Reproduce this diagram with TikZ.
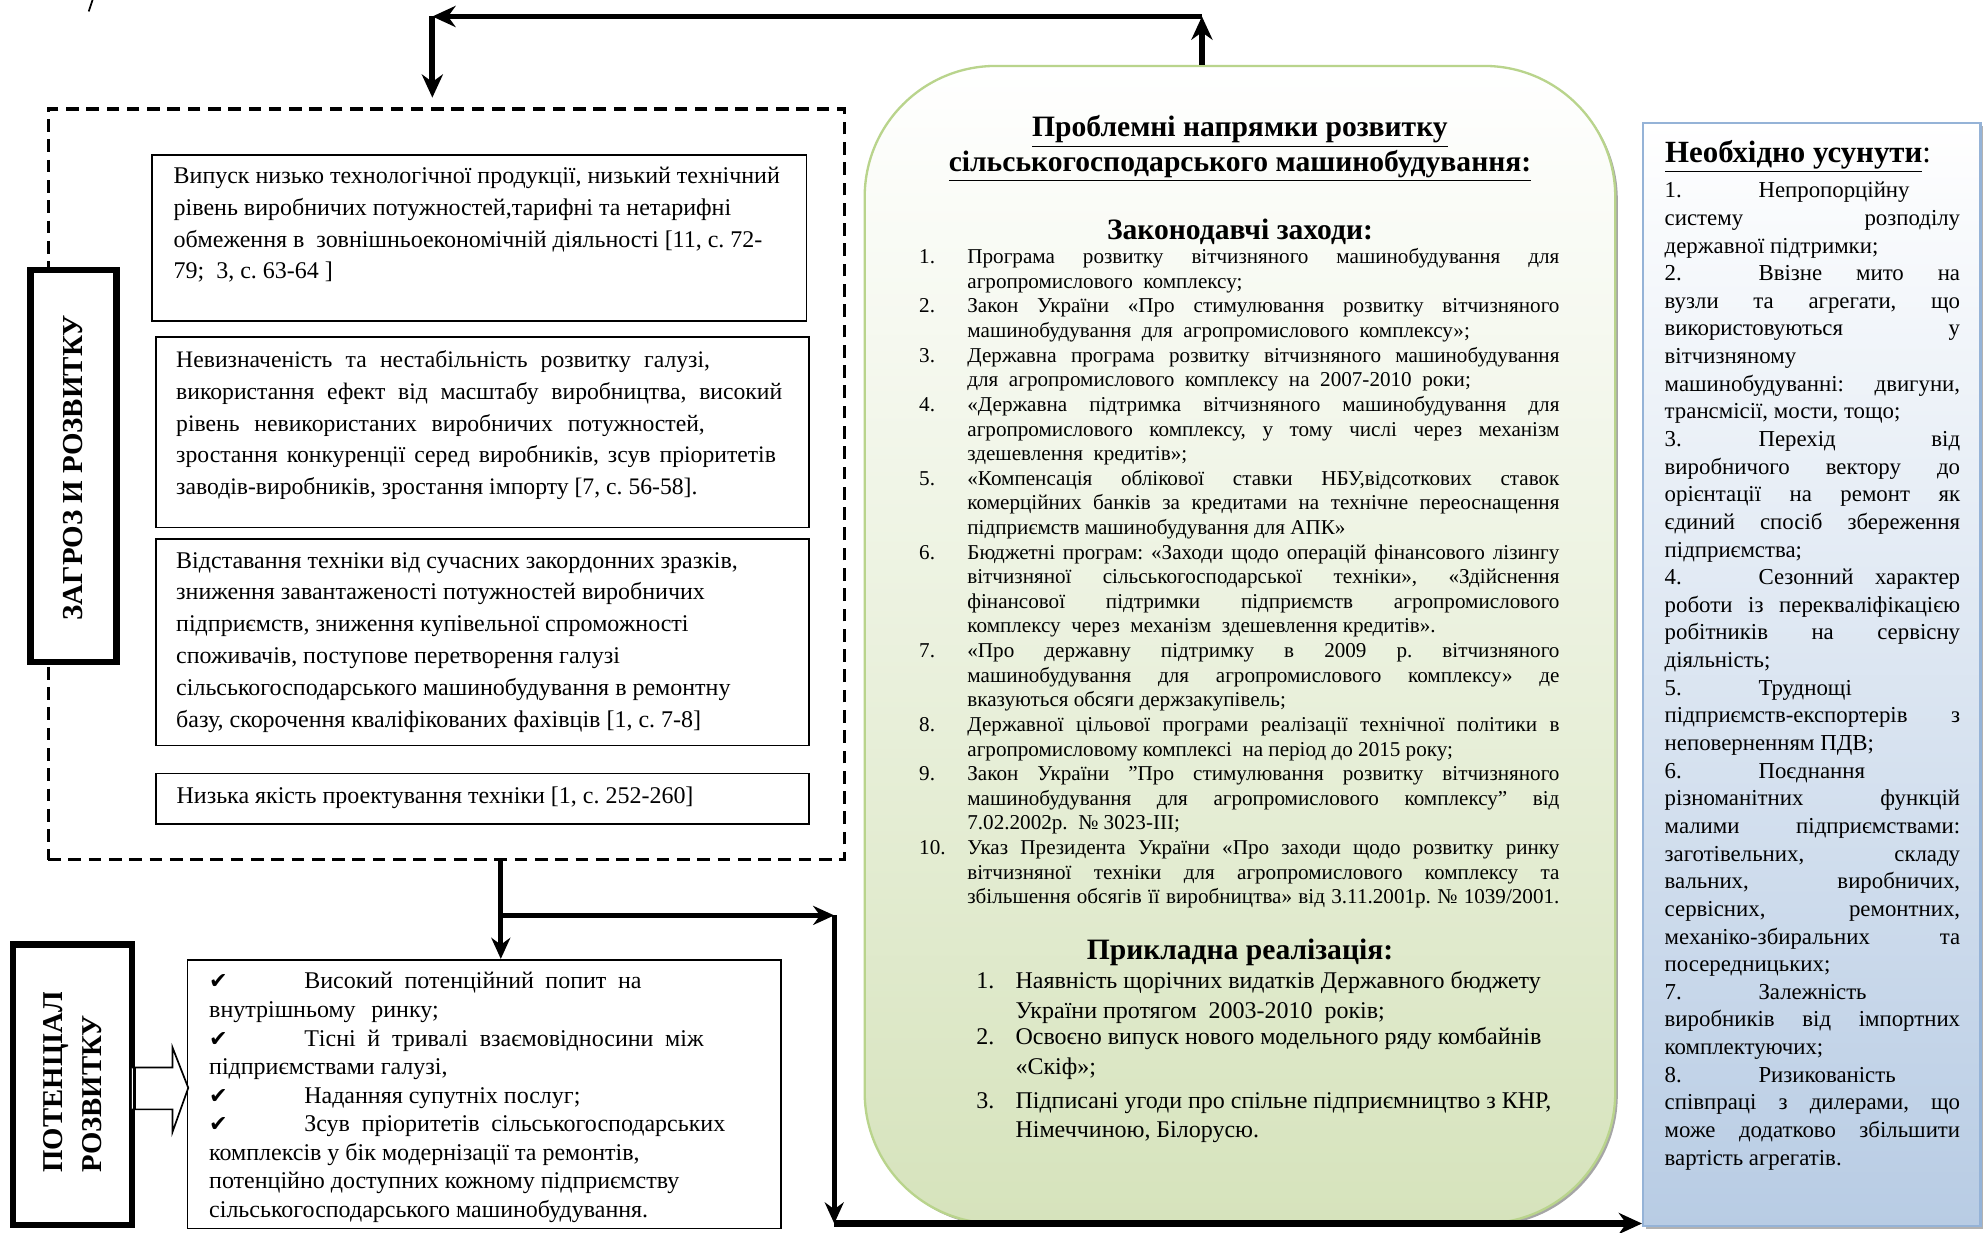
\documentclass[tikz,border=0pt]{standalone}
\usepackage{fontspec}
\setmainfont{Liberation Serif}
\newfontfamily\symf{DejaVu Sans}
\usetikzlibrary{arrows.meta,calc}
\definecolor{grnB}{RGB}{185,212,140}
\definecolor{grnM}{RGB}{238,244,224}
\definecolor{grnF}{RGB}{214,227,188}
\definecolor{bluB}{RGB}{149,179,215}
\definecolor{bluM}{RGB}{226,234,244}
\definecolor{bluF}{RGB}{184,204,228}
\frenchspacing
\newcommand\J[1]{\hbox to \hsize{\strut\spaceskip=.25em plus 1fil\relax#1}}
\newcommand\LL[1]{\hbox to \hsize{\strut#1\hfil}}
\newcommand\JW[2]{\hbox to \hsize{\hbox to #1{\strut\spaceskip=.25em plus 1fil\relax#2}\hfil}}
\newcommand\chk{{\symf\fontsize{10.5}{10.5}\selectfont ✔}}
\newcommand\tc[1]{\llap{\hbox to 22.8pt{#1\hfil}}}
\newcommand\tp[1]{\llap{\hbox to 18.6pt{#1\hfil}}}
\newcommand\tr[1]{\hbox to 44.4pt{#1\hfil}}
\newcommand\tb[1]{\hbox to 45pt{#1\hfil}}
\tikzset{
  tb/.style={anchor=north west, inner sep=0pt, outer sep=0pt},
  boxx/.style={draw, line width=0.8pt, fill=white, inner sep=0pt},
  arr/.style={line width=2.7pt, -{Stealth[length=11pt,width=10pt]}},
  arr2/.style={line width=2.3pt, -{Stealth[length=10pt,width=9pt]}},
  arr3/.style={line width=3pt, -{Stealth[length=11pt,width=10pt]}},
  ttl/.style={anchor=base, inner sep=0pt, font=\bfseries\fontsize{14}{16}\selectfont},
}
\begin{document}
\begin{tikzpicture}[x=0.6pt,y=-0.6pt]
\useasboundingbox (0,0) rectangle (1568,972);
\fill[white] (0,0) rectangle (1568,972);

% small fragment top-left
\draw[line width=0.8pt] (73,0) -- (70,9);

% green rounded box
\node[fill=black!35, rounded corners=62pt, minimum width=355.2pt, minimum height=547.8pt, inner sep=0pt] (greensh) at (980,510.5) {};
\node[draw=grnB, line width=1.1pt, top color=white, middle color=grnM, bottom color=grnF, rounded corners=62pt, minimum width=355.2pt, minimum height=547.8pt, inner sep=0pt] (green) at (978,508.5) {};

% blue box
\node[fill=black!30, minimum width=159.6pt, minimum height=522pt, inner sep=0pt] (bluesh) at (1431,534) {};
\node[draw=bluB, line width=1.1pt, top color=white, middle color=bluM, bottom color=bluF, minimum width=159.6pt, minimum height=522pt, inner sep=0pt] (blue) at (1429,532) {};

% dashed frame
\node[draw, line width=1.5pt, dash pattern=on 6pt off 3.6pt, minimum width=376.8pt, minimum height=355.2pt, inner sep=0pt] (dash) at (352,382) {};

% left boxes
\node[boxx, minimum width=309.6pt, minimum height=78.6pt] (b1) at (378,187.5) {};
\node[boxx, minimum width=309pt, minimum height=90pt] (b2) at (380.5,341) {};
\node[boxx, minimum width=309pt, minimum height=97.8pt] (b3) at (380.5,506.5) {};
\node[boxx, minimum width=309pt, minimum height=24pt] (b4) at (380.5,630) {};
\node[boxx, minimum width=280.8pt, minimum height=127.2pt] (b5) at (382,863) {};

% threat box
\node[draw, line width=3pt, fill=white, minimum width=40.8pt, minimum height=185.4pt, inner sep=0pt] (zag) at (58,367.5) {};
\node[rotate=90, inner sep=0pt, font=\bfseries\fontsize{13.7}{16}\selectfont] (zagt) at (58,369) {ЗАГРОЗ И РОЗВИТКУ};

% potential box
\node[draw, line width=3pt, fill=white, minimum width=56.4pt, minimum height=132.6pt, inner sep=0pt] (pot) at (57,855.5) {};
\begin{scope}
\clip (12,783) rectangle (102,968);
\node[rotate=90, anchor=base west, inner sep=0pt, font=\bfseries\fontsize{13.6}{16}\selectfont] (pot1) at (49.5,925) {ПОТЕНЦІАЛ};
\node[rotate=90, anchor=base west, inner sep=0pt, font=\bfseries\fontsize{13.6}{16}\selectfont] (pot2) at (80,925) {РОЗВИТКУ};
\end{scope}

% hollow block arrow
\draw[line width=0.8pt, fill=white] (104,842) -- (136,842) -- (136,826) -- (148.5,858) -- (136,893) -- (136,875) -- (104,875);
\draw[line width=1.6pt] (106,842) -- (106,875);

% texts of left boxes
\node[tb, font=\fontsize{11.35}{15}\selectfont] (t1) at (137,127.5) {\vbox{\hsize=288pt
\LL{Випуск низько технологічної продукції, низький технічний}
\LL{рівень виробничих потужностей,тарифні та нетарифні}
\LL{обмеження в\ \ зовнішньоекономічній діяльності [11, с. 72-}
\LL{79;\ \ 3, с. 63-64 ]}}};

\node[tb, font=\fontsize{11.2}{15}\selectfont] (t2) at (139,272.5) {\vbox{\hsize=286.8pt
\JW{252.6pt}{Невизначеність та нестабільність розвитку галузі,}
\JW{286.8pt}{використання ефект від масштабу виробництва, високий}
\JW{250.2pt}{рівень невикористаних виробничих потужностей,}
\JW{283.8pt}{зростання конкуренції серед виробників, зсув пріоритетів}
\LL{заводів-виробників, зростання імпорту [7, с. 56-58].}}};

\node[tb, font=\fontsize{11.35}{15.1}\selectfont] (t3) at (139,430.4) {\vbox{\hsize=286.8pt
\LL{Відставання техніки від сучасних закордонних зразків,}
\LL{зниження завантаженості потужностей виробничих}
\LL{підприємств, зниження купівельної спроможності}
\LL{споживачів, поступове перетворення галузі}
\LL{сільськогосподарського машинобудування в ремонтну}
\LL{базу, скорочення кваліфікованих фахівців [1, с. 7-8]}}};

\node[anchor=base west, inner sep=0pt, font=\fontsize{11.35}{15}\selectfont] (t4) at (139,634) {Низька якість проектування техніки [1, с. 252-260]};

\node[tb, font=\fontsize{11.35}{13.5}\selectfont] (t5) at (165,764.25) {\vbox{\hsize=264pt
\JW{204.6pt}{\tb{\chk}Високий потенційний попит на}
\JW{108.6pt}{внутрішньому ринку;}
\JW{234pt}{\tb{\chk}Тісні й тривалі взаємовідносини між}
\JW{99pt}{підприємствами галузі,}
\LL{\tb{\chk}Наданняя супутніх послуг;}
\JW{244.2pt}{\tb{\chk}Зсув пріоритетів сільськогосподарських}
\LL{комплексів у бік модернізації та ремонтів,}
\LL{потенційно доступних кожному підприємству}
\LL{сільськогосподарського машинобудування.}}};

% centre texts
\node[ttl] (ti1) at (978,108) {\underline{Проблемні напрямки розвитку}};
\node[ttl] (ti2) at (978,135) {\underline{сільськогосподарського машинобудування:}};
\node[ttl] (ti3) at (978,189) {Законодавчі заходи:};

\node[tb, font=\fontsize{10}{11.65}\selectfont] (cl) at (763,194.4) {\vbox{\hsize=280.2pt
\J{\tc{1.}Програма розвитку вітчизняного машинобудування для}
\LL{агропромислового\ \ комплексу;}
\J{\tc{2.}Закон України «Про стимулювання розвитку вітчизняного}
\LL{машинобудування\ \ для\ \ агропромислового\ \ комплексу»;}
\J{\tc{3.}Державна програма розвитку вітчизняного машинобудування}
\LL{для\ \ агропромислового\ \ комплексу\ \ на\ \ 2007-2010\ \ роки;}
\J{\tc{4.}«Державна підтримка вітчизняного машинобудування для}
\J{агропромислового комплексу, у тому числі через механізм}
\LL{здешевлення\ \ кредитів»;}
\J{\tc{5.}«Компенсація облікової ставки НБУ,відсоткових ставок}
\J{комерційних банків за кредитами на технічне переоснащення}
\LL{підприємств машинобудування для АПК»}
\J{\tc{6.}Бюджетні програм: «Заходи щодо операцій фінансового лізингу}
\J{вітчизняної сільськогосподарської техніки», «Здійснення}
\J{фінансової підтримки підприємств агропромислового}
\LL{комплексу\ \ через\ \ механізм\ \ здешевлення кредитів».}
\J{\tc{7.}«Про державну підтримку в 2009 р. вітчизняного}
\J{машинобудування для агропромислового комплексу» де}
\LL{вказуються обсяги держзакупівель;}
\J{\tc{8.}Державної цільової програми реалізації технічної політики в}
\LL{агропромисловому комплексі\ \ на період до 2015 року;}
\J{\tc{9.}Закон України "Про стимулювання розвитку вітчизняного}
\J{машинобудування для агропромислового комплексу" від}
\LL{7.02.2002р.\ \ № 3023-ІІІ;}
\J{\tc{10.}Указ Президента України «Про заходи щодо розвитку ринку}
\J{вітчизняної техніки для агропромислового комплексу та}
\J{збільшення обсягів її виробництва» від 3.11.2001р. № 1039/2001.}}};

\node[ttl] (ti4) at (978,757) {Прикладна реалізація:};
\node[tb, font=\fontsize{11.35}{14}\selectfont] (p1) at (801,763.7) {\vbox{\hsize=260pt
\LL{\tp{1.}Наявність щорічних видатків Державного бюджету}
\LL{України протягом\ \ 2003-2010\ \ років;}}};
\node[tb, font=\fontsize{11.35}{14}\selectfont] (p2) at (801,807.7) {\vbox{\hsize=260pt
\LL{\tp{2.}Освоєно випуск нового модельного ряду комбайнів}
\LL{«Скіф»;}}};
\node[tb, font=\fontsize{11.35}{14}\selectfont] (p3) at (801,857.7) {\vbox{\hsize=260pt
\LL{\tp{3.}Підписані угоди про спільне підприємництво з КНР,}
\LL{Німеччиною, Білорусю.}}};

% right texts
\node[anchor=base west, inner sep=0pt, font=\fontsize{14.6}{16}\selectfont] (rt) at (1313,128) {\textbf{\underline{Необхідно усунути}}:};
\node[tb, font=\fontsize{10.8}{13.08}\selectfont] (rl) at (1313,140.7) {\vbox{\hsize=139.8pt
\LL{\tr{1.}Непропорційну}
\J{системy розподілу}
\LL{державної підтримки;}
\J{\tr{2.}Ввізне мито на}
\J{вузли та агрегати, що}
\J{використовуються у}
\LL{вітчизняному}
\J{машинобудуванні: двигуни,}
\LL{трансмісії, мости, тощо;}
\J{\tr{3.}Перехід від}
\J{виробничого вектору до}
\J{орієнтації на ремонт як}
\J{єдиний спосіб збереження}
\LL{підприємства;}
\J{\tr{4.}Сезонний характер}
\J{роботи із перекваліфікацією}
\J{робітників на сервісну}
\LL{діяльність;}
\LL{\tr{5.}Труднощі}
\J{підприємств-експортерів з}
\LL{неповерненням ПДВ;}
\LL{\tr{6.}Поєднання}
\J{різноманітних функцій}
\J{малими підприємствами:}
\J{заготівельних, складу}
\J{вальних, виробничих,}
\J{сервісних, ремонтних,}
\J{механіко-збиральних та}
\LL{посередницьких;}
\LL{\tr{7.}Залежність}
\J{виробників від імпортних}
\LL{комплектуючих;}
\LL{\tr{8.}Ризикованість}
\J{співпраці з дилерами, що}
\J{може додатково збільшити}
\LL{вартість агрегатів.}}};

% connectors
\coordinate (up1) at (948,13);
\coordinate (up2) at (341,13);
\coordinate (dn1) at (341,77);
\draw[arr] (green.north -| up1) -- (up1);
\draw[arr] (up1) -- (up2);
\draw[arr] (up2) -- (dn1);

\coordinate (j1) at (395,722);
\coordinate (j2) at (658,722);
\coordinate (j3) at (658,965);
\draw[arr2] (dash.south -| j1) -- (b5.north -| j1);
\draw[arr2] (j1) -- (j2);
\draw[arr2] (j2) -- (j3);
\draw[arr3] (j3) -- (j3 -| blue.west);
\end{tikzpicture}
\end{document}
